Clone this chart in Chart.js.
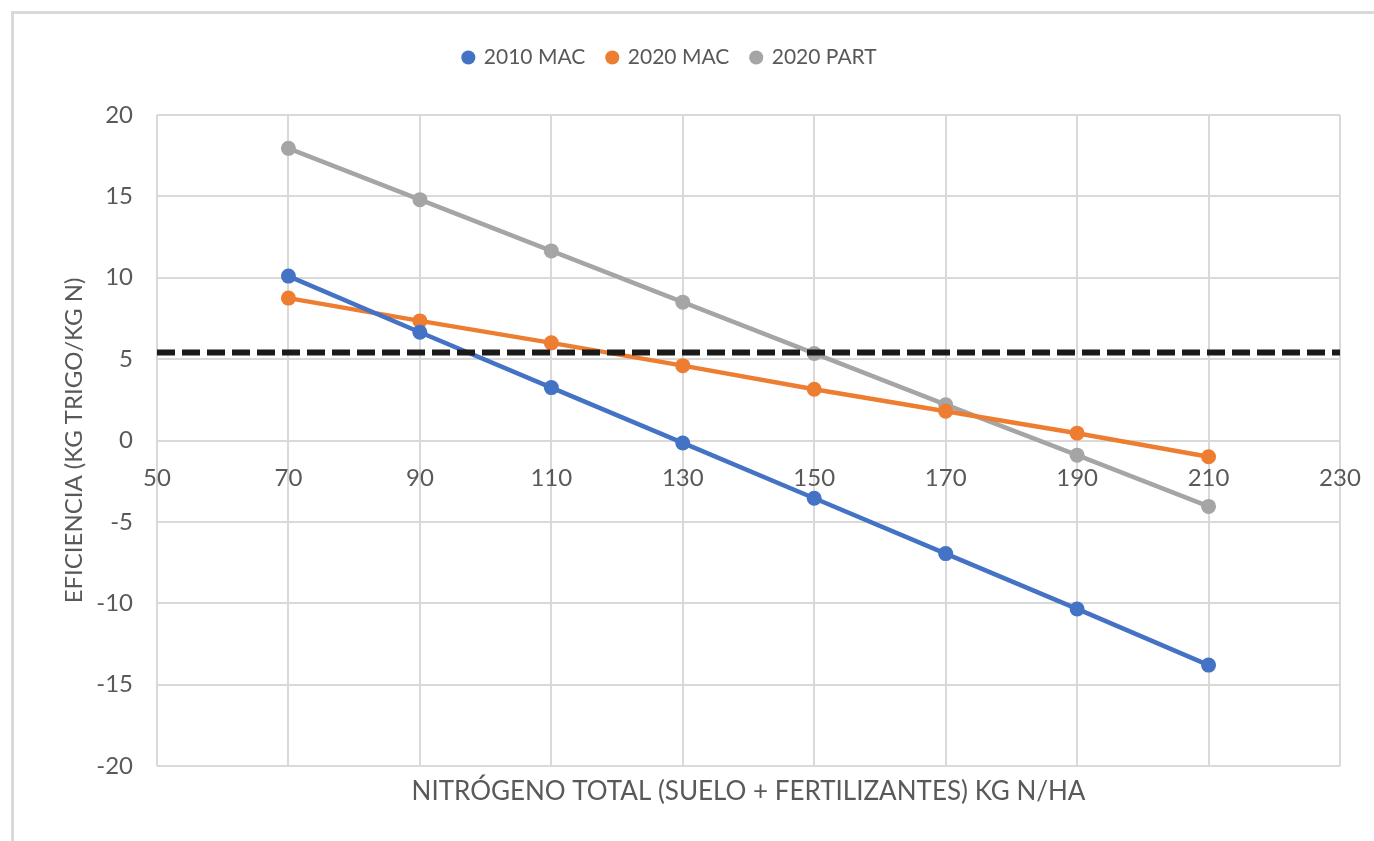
<!DOCTYPE html>
<html>
<head>
<meta charset="utf-8">
<script src="https://cdn.jsdelivr.net/npm/chart.js@4.4.1/dist/chart.umd.min.js"></script>
<style>
  html, body { margin: 0; padding: 0; background: #fff; overflow: hidden; }
  #frame { position: absolute; left: 11px; top: 11px; width: 1400px; height: 900px;
           border-left: 3px solid #d9d9d9; border-top: 3px solid #d9d9d9; }
  #c { position: absolute; left: 0; top: 0; }
</style>
</head>
<body>
<div id="frame"></div>
<canvas id="c" width="1374" height="841"></canvas>
<script>
// ---- data ----
const nitrogen = [70, 90, 110, 130, 150, 170, 190, 210];
const mac2010  = [10.1, 6.65, 3.25, -0.15, -3.55, -6.95, -10.35, -13.8];
const mac2020  = [8.75, 7.35, 6.0, 4.6, 3.15, 1.8, 0.45, -1.0];
const part2020 = [17.95, 14.8, 11.65, 8.5, 5.35, 2.2, -0.9, -4.05];
const seriesNames = ['2010 MAC', '2020 MAC', '2020 PART'];
const threshold = 5.4;
const xTitle = 'NITRÓGENO TOTAL (SUELO + FERTILIZANTES) KG N/HA';
const yTitle = 'EFICIENCIA (KG TRIGO/KG N)';

const FONT = "'Lato', sans-serif";
const TXT = '#595959';
const GRID = '#d9d9d9';

const pts = (arr) => nitrogen.map((x, i) => ({x, y: arr[i]}));
const mk = (label, arr, color) => ({
  label, data: pts(arr), borderColor: color, backgroundColor: color,
  pointBackgroundColor: color, pointBorderColor: color,
  borderWidth: 4.5, pointRadius: 7.5, pointBorderWidth: 0, pointHoverRadius: 7.5,
  tension: 0, order: 2
});

const legendGap = {
  id: 'legendGap',
  beforeInit(chart) {
    const lg = chart.legend;
    if (!lg) return;
    const orig = lg.fit;
    lg.fit = function () { orig.call(this); this.height += 37; };
  }
};
const noPad = (s) => { s.paddingLeft = 0; s.paddingRight = 0; s.paddingTop = 0; s.paddingBottom = 0; };

new Chart(document.getElementById('c'), {
  type: 'line',
  data: {
    datasets: [
      mk(seriesNames[0], mac2010, '#4472C4'),
      mk(seriesNames[1], mac2020, '#ED7D31'),
      mk(seriesNames[2], part2020, '#A5A5A5'),
      {
        label: 'umbral', data: [{x: 50, y: threshold}, {x: 230, y: threshold}],
        borderColor: '#1a1a1a', borderWidth: 6, borderDash: [18, 7], pointRadius: 0,
        borderCapStyle: 'butt', order: 0
      }
    ]
  },
  plugins: [legendGap],
  options: {
    responsive: false, animation: false, devicePixelRatio: 1,
    layout: { padding: { top: 25, right: 34, bottom: 0, left: 0 } },
    plugins: {
      tooltip: { enabled: false },
      legend: {
        position: 'top',
        labels: {
          usePointStyle: true, pointStyle: 'circle', boxWidth: 10, boxHeight: 10,
          padding: 22, color: TXT, font: { family: FONT, size: 21 },
          filter: (item) => item.datasetIndex < 3
        }
      }
    },
    scales: {
      x: {
        type: 'linear', position: 'bottom', min: 50, max: 230,
        ticks: { display: false, stepSize: 20 },
        grid: { color: GRID, lineWidth: 2, drawTicks: false },
        border: { display: false },
        title: { display: true, text: xTitle, color: TXT, font: { family: FONT, size: 26 },
                 padding: { top: 0, bottom: 34 } },
        afterFit: (s) => { s.height = 75; noPad(s); }
      },
      x2: {
        type: 'linear', position: { y: 0 }, min: 50, max: 230,
        ticks: { stepSize: 20, color: TXT, font: { family: FONT, size: 24 }, padding: 23, maxRotation: 0 },
        grid: { display: false, drawTicks: false },
        border: { display: false },
        afterFit: (s) => { noPad(s); }
      },
      y: {
        type: 'linear', min: -20, max: 20,
        ticks: { stepSize: 5, color: TXT, font: { family: FONT, size: 24 }, padding: 24 },
        grid: { color: GRID, lineWidth: 2, drawTicks: false },
        border: { display: false },
        title: { display: true, text: yTitle, color: TXT, font: { family: FONT, size: 24 },
                 padding: { top: 60, bottom: 0 } },
        afterFit: (s) => { s.width = 157; noPad(s); }
      }
    }
  }
});
</script>
</body>
</html>
